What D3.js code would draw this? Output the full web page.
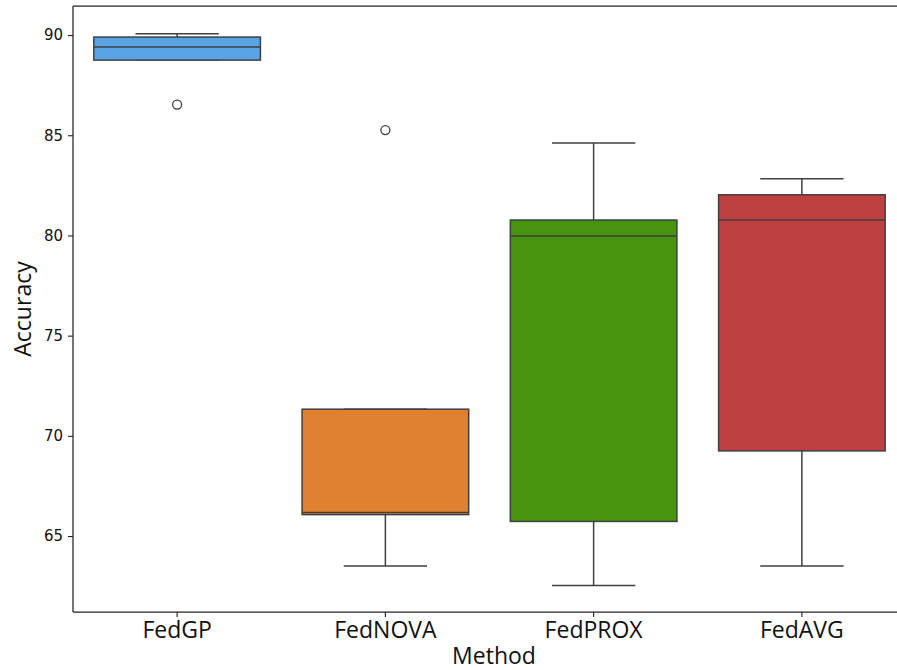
<!DOCTYPE html>
<html>
<head>
<meta charset="utf-8">
<script src="https://cdn.jsdelivr.net/npm/d3@7"></script>
<style>
  html, body { margin: 0; padding: 0; background: #fff; }
  svg { display: block; }
</style>
</head>
<body>
<svg id="chart" width="897" height="670"></svg>
<script>
const categories = ["FedGP", "FedNOVA", "FedPROX", "FedAVG"];
const whiskerLow  = [88.75, 63.50, 62.53, 63.50];
const q1          = [88.75, 66.07, 65.73, 69.25];
const median      = [89.40, 66.17, 79.97, 80.77];
const q3          = [89.90, 71.33, 80.77, 82.03];
const whiskerHigh = [90.06, 71.33, 84.61, 82.83];
const outliers    = [[86.53], [85.26], [], []];
const colors      = ["#59a4e6", "#e0812f", "#46940f", "#bf4041"];
const yTicks      = [65, 70, 75, 80, 85, 90];

const svg = d3.select("#chart");
const mLeft = 73, mTop = 6, mRight = 906, mBottom = 612;

const x = d3.scaleBand().domain(categories).range([mLeft, mRight]).padding(0);
const y = d3.scaleLinear().domain([61.21, 91.45]).range([mBottom, mTop]);

const bw = x.bandwidth() * 0.8;
const lineColor = "#3f3f3f";

const data = categories.map((c, i) => ({
  cat: c, lo: whiskerLow[i], q1: q1[i], med: median[i], q3: q3[i], hi: whiskerHigh[i],
  out: outliers[i], color: colors[i]
}));

const g = svg.append("g");
const box = g.selectAll("g.box").data(data).join("g").attr("class", "box");
const cx = d => x(d.cat) + x.bandwidth() / 2;

// whiskers
box.append("line").attr("x1", cx).attr("x2", cx)
  .attr("y1", d => y(d.q3)).attr("y2", d => y(d.hi))
  .attr("stroke", lineColor).attr("stroke-width", 1.5);
box.append("line").attr("x1", cx).attr("x2", cx)
  .attr("y1", d => y(d.q1)).attr("y2", d => y(d.lo))
  .attr("stroke", lineColor).attr("stroke-width", 1.5);
// caps
box.append("line").attr("x1", d => cx(d) - bw / 4).attr("x2", d => cx(d) + bw / 4)
  .attr("y1", d => y(d.hi)).attr("y2", d => y(d.hi))
  .attr("stroke", lineColor).attr("stroke-width", 1.5);
box.append("line").attr("x1", d => cx(d) - bw / 4).attr("x2", d => cx(d) + bw / 4)
  .attr("y1", d => y(d.lo)).attr("y2", d => y(d.lo))
  .attr("stroke", lineColor).attr("stroke-width", 1.5);
// boxes
box.append("rect")
  .attr("x", d => cx(d) - bw / 2).attr("width", bw)
  .attr("y", d => y(d.q3)).attr("height", d => y(d.q1) - y(d.q3))
  .attr("fill", d => d.color).attr("stroke", lineColor).attr("stroke-width", 1.5);
// medians
box.append("line").attr("x1", d => cx(d) - bw / 2).attr("x2", d => cx(d) + bw / 2)
  .attr("y1", d => y(d.med)).attr("y2", d => y(d.med))
  .attr("stroke", lineColor).attr("stroke-width", 1.5);
// outliers
box.selectAll("circle").data(d => d.out.map(v => ({ v, d }))).join("circle")
  .attr("cx", o => cx(o.d)).attr("cy", o => y(o.v)).attr("r", 4.5)
  .attr("fill", "none").attr("stroke", lineColor).attr("stroke-width", 1.3);

// axes
const yAxis = d3.axisLeft(y).tickValues(yTicks).tickSize(5).tickPadding(5).tickFormat(d3.format("d"));
const yg = svg.append("g").attr("transform", `translate(${mLeft},0)`).call(yAxis);
yg.select(".domain").remove();
yg.selectAll(".tick line").attr("stroke", "#222").attr("stroke-width", 1.1);
yg.selectAll(".tick text").attr("font-family", "DejaVu Sans").attr("font-size", 15).attr("fill", "#111");

const xAxis = d3.axisBottom(x).tickSize(5).tickPadding(5);
const xg = svg.append("g").attr("transform", `translate(0,${mBottom})`).call(xAxis);
xg.select(".domain").remove();
xg.selectAll(".tick line").attr("stroke", "#222").attr("stroke-width", 1.1);
xg.selectAll(".tick text").attr("font-family", "Open Sans").attr("font-size", 23).attr("fill", "#111");

// spines
svg.append("line").attr("x1", mLeft).attr("x2", mLeft).attr("y1", mTop).attr("y2", mBottom)
  .attr("stroke", "#222").attr("stroke-width", 1.25);
svg.append("line").attr("x1", mLeft).attr("x2", mRight).attr("y1", mBottom).attr("y2", mBottom)
  .attr("stroke", "#222").attr("stroke-width", 1.25);
svg.append("line").attr("x1", mLeft).attr("x2", mRight).attr("y1", mTop).attr("y2", mTop)
  .attr("stroke", "#222").attr("stroke-width", 1.25);
svg.append("line").attr("x1", mRight).attr("x2", mRight).attr("y1", mTop).attr("y2", mBottom)
  .attr("stroke", "#222").attr("stroke-width", 1.25);

// axis labels
svg.append("text").attr("x", 494).attr("y", 664).attr("text-anchor", "middle")
  .attr("font-family", "Open Sans").attr("font-size", 23).attr("fill", "#111").text("Method");
svg.append("text").attr("transform", `translate(31,${(mTop + mBottom) / 2}) rotate(-90)`)
  .attr("text-anchor", "middle")
  .attr("font-family", "Open Sans").attr("font-size", 23).attr("fill", "#111").text("Accuracy");
</script>
</body>
</html>
